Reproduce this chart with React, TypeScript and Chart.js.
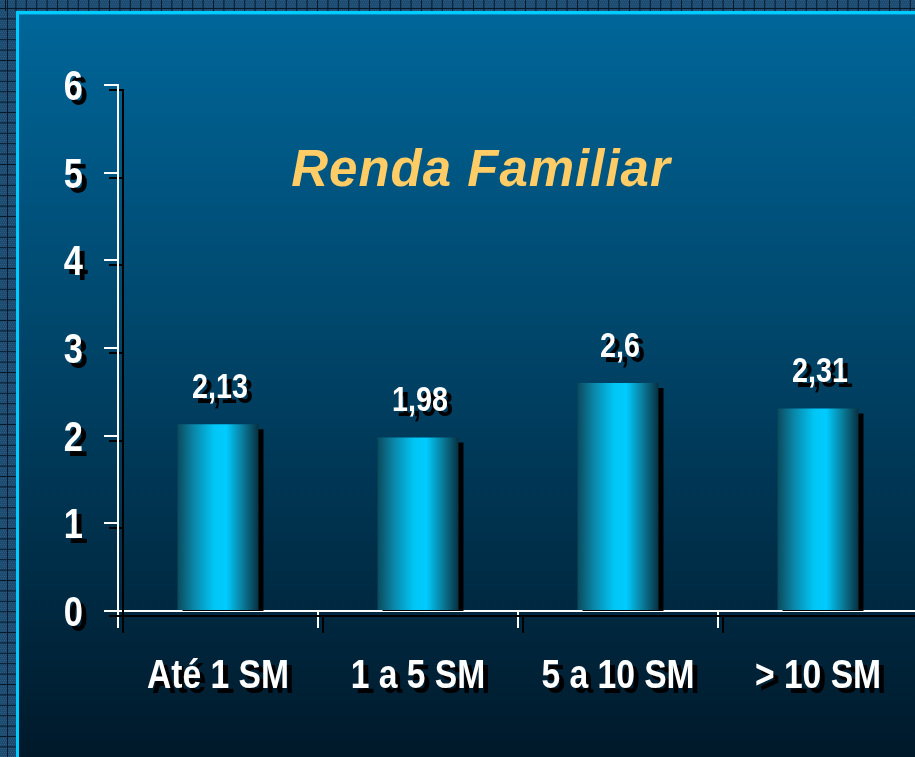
import React, { useEffect, useRef } from "react";
import { Chart, registerables } from "chart.js";

Chart.register(...registerables);

const categories = ["Até 1 SM", "1 a 5 SM", "5 a 10 SM", "> 10 SM"];
const values = [2.13, 1.98, 2.6, 2.31];
const valueLabels = ["2,13", "1,98", "2,6", "2,31"];
const yTicks = [0, 1, 2, 3, 4, 5, 6];
const titleText = "Renda Familiar";

const FAMILY = "'Liberation Sans', Arial, sans-serif";
const NARROW_SCALE = 0.82;
const BAR_PCT = 0.405;

function narrowText(
  ctx: CanvasRenderingContext2D,
  text: string,
  x: number,
  y: number,
  size: number,
  align: "left" | "center" | "right"
) {
  ctx.save();
  ctx.font = `bold ${size}px ${FAMILY}`;
  ctx.textAlign = align;
  ctx.textBaseline = "alphabetic";
  ctx.translate(x, y);
  ctx.scale(NARROW_SCALE, 1);
  ctx.fillText(text, 0, 0);
  ctx.restore();
}

const backgroundPlugin = {
  id: "bgAndShadow",
  beforeDraw(chart: any) {
    const ctx = chart.ctx as CanvasRenderingContext2D;
    const W = chart.width;
    const H = chart.height;
    ctx.save();
    ctx.fillStyle = "#1d4b70";
    ctx.fillRect(0, 0, W, H);
    ctx.fillStyle = "#2a5a82";
    for (let y = 0; y < H; y += 2) {
      for (let x = (y / 2) % 2; x < W; x += 2) {
        if (x < 20 || y < 16) ctx.fillRect(x, y, 1, 1);
      }
    }
    ctx.strokeStyle = "#08192a";
    ctx.lineWidth = 1;
    ctx.beginPath();
    for (let x = 5.5; x < W; x += 10.4) {
      ctx.moveTo(x, 0);
      ctx.lineTo(x, 11);
    }
    for (let y = 8.5; y < H; y += 10.4) {
      ctx.moveTo(0, y);
      ctx.lineTo(16, y);
    }
    ctx.moveTo(0, 8.5);
    ctx.lineTo(W, 8.5);
    ctx.moveTo(7.5, 0);
    ctx.lineTo(7.5, H);
    ctx.stroke();
    ctx.fillStyle = "#00ccff";
    ctx.fillRect(16, 11, W - 16, 4);
    ctx.fillRect(16, 11, 3, H - 11);
    ctx.fillStyle = "#0090c0";
    ctx.fillRect(19, 14, W - 19, 1);
    const g = ctx.createLinearGradient(0, 15, 0, H);
    g.addColorStop(0, "#006699");
    g.addColorStop(0.45, "#004468");
    g.addColorStop(1, "#00192a");
    ctx.fillStyle = g;
    ctx.fillRect(19, 15, W - 19, H - 15);
    ctx.restore();
    ctx.save();
    ctx.shadowColor = "#000000";
    ctx.shadowOffsetX = 5;
    ctx.shadowOffsetY = 5;
    ctx.shadowBlur = 0;
  },
  afterDatasetsDraw(chart: any) {
    const ctx = chart.ctx as CanvasRenderingContext2D;
    const ca = chart.chartArea;
    const xs = chart.scales.x;
    const ys = chart.scales.y;
    ctx.save();
    ctx.fillStyle = "#ffffff";
    // value labels
    const meta = chart.getDatasetMeta(0);
    meta.data.forEach((bar: any, i: number) => {
      narrowText(ctx, valueLabels[i], bar.x + 2, bar.y - 26, 35, "center");
    });
    // y tick labels
    yTicks.forEach((v) => {
      narrowText(ctx, String(v), ca.left - 35, ys.getPixelForValue(v) + 15, 42, "right");
    });
    // x tick labels
    categories.forEach((c, i) => {
      narrowText(ctx, c, xs.getPixelForValue(i), ca.bottom + 77, 41, "center");
    });
    ctx.restore();
  },
  afterDraw(chart: any) {
    const ctx = chart.ctx as CanvasRenderingContext2D;
    ctx.restore();
    const ca = chart.chartArea;
    ctx.save();
    ctx.fillStyle = "#ffcc66";
    ctx.font = `italic bold 51px ${FAMILY}`;
    (ctx as any).letterSpacing = "1px";
    ctx.textAlign = "center";
    ctx.textBaseline = "alphabetic";
    ctx.fillText(titleText, ca.left + 363, ca.top + 101);
    ctx.restore();
  },
};

export default function App() {
  const ref = useRef<HTMLCanvasElement | null>(null);
  useEffect(() => {
    document.body.style.margin = "0";
    const canvas = ref.current!;
    const chart = new Chart(canvas, {
      type: "bar",
      data: {
        labels: categories,
        datasets: [
          {
            data: values,
            borderWidth: 0,
            barPercentage: BAR_PCT,
            categoryPercentage: 1,
            backgroundColor: (c: any) => {
              const ch = c.chart;
              const ca = ch.chartArea;
              if (!ca) return "#00ccff";
              const xs = ch.scales.x;
              const cx = xs.getPixelForValue(c.dataIndex);
              const w = (xs.width / categories.length) * BAR_PCT;
              const g = ch.ctx.createLinearGradient(cx - w / 2, 0, cx + w / 2, 0);
              g.addColorStop(0, "#0b4a5c");
              g.addColorStop(0.2, "#0b86a8");
              g.addColorStop(0.45, "#00c6f4");
              g.addColorStop(0.6, "#00ccff");
              g.addColorStop(0.8, "#0a7e9c");
              g.addColorStop(1, "#073040");
              return g;
            },
          },
        ],
      },
      options: {
        responsive: false,
        animation: false,
        devicePixelRatio: 1,
        layout: { padding: { top: 85, right: 2, left: 0, bottom: 0 } },
        plugins: {
          legend: { display: false },
          title: { display: false },
          tooltip: { enabled: false },
        },
        scales: {
          x: {
            type: "category",
            grid: {
              display: true,
              drawOnChartArea: false,
              drawTicks: true,
              tickLength: 17,
              color: "#ffffff",
              lineWidth: 2,
              offset: true,
            },
            border: { display: true, color: "#ffffff", width: 2 },
            ticks: { display: false },
            afterFit: (s: any) => {
              s.height = 146;
            },
          },
          y: {
            min: 0,
            max: 6,
            afterBuildTicks: (s: any) => {
              s.ticks = yTicks.map((v) => ({ value: v }));
            },
            grid: {
              display: true,
              drawOnChartArea: false,
              drawTicks: true,
              tickLength: 14,
              color: "#ffffff",
              lineWidth: 2,
            },
            border: { display: true, color: "#ffffff", width: 2 },
            ticks: { display: false },
            afterFit: (s: any) => {
              s.width = 118;
            },
          },
        },
      } as any,
      plugins: [backgroundPlugin],
    });
    return () => chart.destroy();
  }, []);
  return (
    <div style={{ position: "absolute", left: 0, top: 0, width: 915, height: 757, overflow: "hidden" }}>
      <canvas ref={ref} width={920} height={757} style={{ display: "block" }} />
    </div>
  );
}
